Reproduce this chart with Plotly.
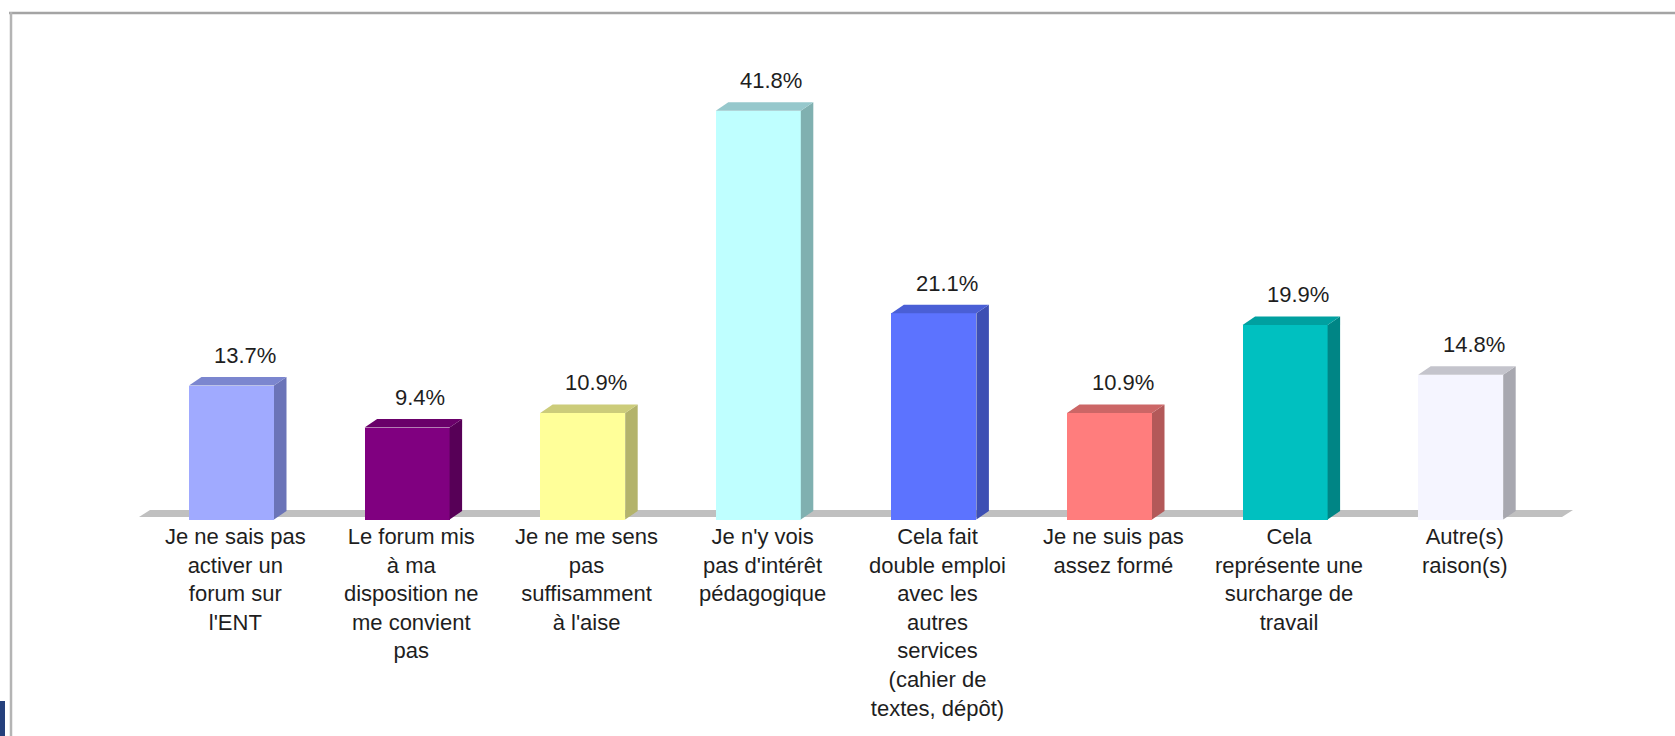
import plotly.graph_objects as go

# ---------------- data ----------------
categories = [
    "Je ne sais pas<br>activer un<br>forum sur<br>l'ENT",
    "Le forum mis<br>à ma<br>disposition ne<br>me convient<br>pas",
    "Je ne me sens<br>pas<br>suffisamment<br>à l'aise",
    "Je n'y vois<br>pas d'intérêt<br>pédagogique",
    "Cela fait<br>double emploi<br>avec les<br>autres<br>services<br>(cahier de<br>textes, dépôt)",
    "Je ne suis pas<br>assez formé",
    "Cela<br>représente une<br>surcharge de<br>travail",
    "Autre(s)<br>raison(s)",
]
values = [13.7, 9.4, 10.9, 41.8, 21.1, 10.9, 19.9, 14.8]
value_labels = [f"{v:.1f}%" for v in values]

front_colors = ["#A0AAFF", "#800080", "#FFFF99", "#BFFFFF", "#5C73FF", "#FF7D7D", "#00C0C0", "#F5F5FF"]
side_colors = ["#6B74B8", "#570057", "#B3B36B", "#80B0B0", "#3D4FB3", "#B35959", "#008585", "#A8A8B0"]
top_colors = ["#7B86CF", "#6A006A", "#CCCC7A", "#96C8CC", "#4A5FD6", "#CC6666", "#00A0A0", "#C4C4CC"]

# ---------------- layout constants (pixels) ----------------
W, H = 1675, 736
X0, PITCH = 231.5, 175.6      # px of first category centre, px per category
Y0, K = 519.5, 9.776          # px of value 0, px per percent
L, R, T, B = 100, 1600, 30, 600  # plot area in px

xr = [(L - X0) / PITCH, (R - X0) / PITCH]
yr = [(Y0 - B) / K, (Y0 - T) / K]

w = 85 / PITCH        # bar width (category units)
dx = 12.5 / PITCH     # depth offset x
dy = 8.5 / K          # depth offset y

FONT = "Liberation Sans, Arial, sans-serif"
TXT = "#1e1e1e"

fig = go.Figure()

n = len(values)
xs_idx = list(range(n))

# side and top faces
for i, v in enumerate(values):
    xr_ = i + w / 2
    fig.add_trace(go.Scatter(
        x=[xr_, xr_ + dx, xr_ + dx, xr_, xr_],
        y=[0, dy, v + dy, v, 0],
        fill="toself", fillcolor=side_colors[i], mode="lines", line=dict(width=0),
        hoverinfo="skip", showlegend=False))
    xl_ = i - w / 2
    fig.add_trace(go.Scatter(
        x=[xl_, xl_ + dx, xr_ + dx, xr_, xl_],
        y=[v, v + dy, v + dy, v, v],
        fill="toself", fillcolor=top_colors[i], mode="lines", line=dict(width=0),
        hoverinfo="skip", showlegend=False))

# front faces
fig.add_trace(go.Bar(
    x=xs_idx, y=values, width=w,
    marker=dict(color=front_colors, line=dict(width=0)),
    showlegend=False, hoverinfo="skip"))

annotations = []
for i, v in enumerate(values):
    annotations.append(dict(
        x=i, y=v + dy, xref="x", yref="y", text=value_labels[i],
        showarrow=False, xanchor="center", yanchor="bottom",
        xshift=13, yshift=8, borderpad=0,
        font=dict(family=FONT, size=22, color=TXT)))
    annotations.append(dict(
        x=i, y=0, xref="x", yref="y", text=categories[i],
        showarrow=False, xanchor="center", yanchor="top", align="center",
        xshift=4, yshift=-3.5, borderpad=0,
        font=dict(family=FONT, size=22, color=TXT)))


def xp(px):
    return (px - L) / (R - L)


def yp(py):
    return (B - py) / (B - T)


# floor (below traces)
f_front = (Y0 - 517) / K
f_back = f_front + 7 / K
f_left = (139 - X0) / PITCH
f_right = (1562 - X0) / PITCH
f_dx = 11 / PITCH
floor_path = (f"M {f_left},{f_front} L {f_right},{f_front} "
              f"L {f_right + f_dx},{f_back} L {f_left + f_dx},{f_back} Z")

shapes = [
    dict(type="path", xref="x", yref="y", path=floor_path, fillcolor="#C0C0C0",
         line=dict(width=0), layer="below"),
    dict(type="line", xref="paper", yref="paper", x0=xp(9), x1=xp(1675), y0=yp(13), y1=yp(13),
         line=dict(color="#A4A4A4", width=2.5)),
    dict(type="line", xref="paper", yref="paper", x0=xp(11), x1=xp(11), y0=yp(12), y1=yp(736),
         line=dict(color="#B4B4B4", width=2.5)),
    dict(type="rect", xref="paper", yref="paper", x0=xp(0), x1=xp(5), y0=yp(701), y1=yp(736),
         fillcolor="#25407C", line=dict(width=0)),
]

fig.update_layout(
    width=W, height=H,
    margin=dict(l=L, r=W - R, t=T, b=H - B),
    paper_bgcolor="white", plot_bgcolor="white",
    xaxis=dict(range=xr, visible=False, fixedrange=True),
    yaxis=dict(range=yr, visible=False, fixedrange=True),
    annotations=annotations, shapes=shapes,
    showlegend=False, bargap=0,
)

fig.write_html(
    "out.html",
    config={"displayModeBar": False, "staticPlot": True},
    post_script="document.body.style.margin='0';document.body.style.overflow='hidden';",
)
